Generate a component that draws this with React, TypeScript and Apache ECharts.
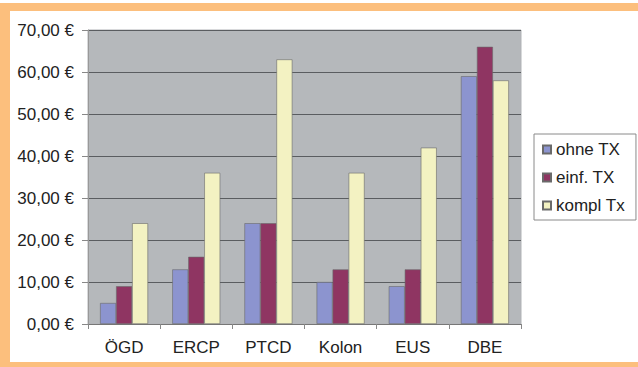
import React, { useEffect, useRef } from "react";
import * as echarts from "echarts";

const categories = ["ÖGD", "ERCP", "PTCD", "Kolon", "EUS", "DBE"];
const ohneTX = [5, 13, 24, 10, 9, 59];
const einfTX = [9, 16, 24, 13, 13, 66];
const komplTx = [24, 36, 63, 36, 42, 58];
const seriesNames = ["ohne TX", "einf. TX", "kompl Tx"];
const seriesColors = ["#8c94cf", "#8f3562", "#f3f2c2"];

const FONT = "'Liberation Sans', Arial, Helvetica, sans-serif";

export default function App() {
  const ref = useRef<HTMLDivElement>(null);
  useEffect(() => {
    if (!ref.current) return;
    const chart = echarts.init(ref.current, undefined, { renderer: "svg" });
    const data = [ohneTX, einfTX, komplTx];
    chart.setOption({
      animation: false,
      backgroundColor: "#ffffff",
      textStyle: { fontFamily: FONT },
      graphic: [
        { type: "rect", shape: { x: 0, y: 3, width: 638, height: 8 }, style: { fill: "#fcbf7d" }, silent: true },
        { type: "rect", shape: { x: 0, y: 3, width: 10, height: 364 }, style: { fill: "#fcbf7d" }, silent: true },
        { type: "rect", shape: { x: 0, y: 362, width: 638, height: 5 }, style: { fill: "#fcbf7d" }, silent: true },
      ],
      grid: {
        left: 88,
        top: 30,
        right: 117,
        bottom: 43,
        show: true,
        backgroundColor: "#b5b8bb",
        borderColor: "#b0b3b6",
        borderWidth: 1,
      },
      legend: {
        orient: "vertical",
        left: 534,
        top: 134,
        width: 96,
        padding: [7, 11, 6, 8],
        itemGap: 11,
        itemWidth: 8,
        itemHeight: 8,
        borderColor: "#8a8a8a",
        borderWidth: 1,
        backgroundColor: "#ffffff",
        icon: "rect",
        data: seriesNames,
        textStyle: { fontSize: 17, color: "#222", fontFamily: FONT },
      },
      xAxis: {
        type: "category",
        data: categories,
        axisLine: { lineStyle: { color: "#777", width: 1 } },
        axisTick: { show: true, inside: false, length: 5, lineStyle: { color: "#888" } },
        axisLabel: { fontSize: 17, color: "#222", margin: 15, fontFamily: FONT },
      },
      yAxis: {
        type: "value",
        min: 0,
        max: 70,
        interval: 10,
        axisLine: { show: true, lineStyle: { color: "#999" } },
        axisTick: { show: true, length: 6, lineStyle: { color: "#888" } },
        axisLabel: {
          fontSize: 17,
          color: "#222",
          margin: 14,
          fontFamily: FONT,
          formatter: (v: number) => `${v},00 €`,
        },
        splitLine: { lineStyle: { color: "#5a5d60", width: 1 } },
      },
      series: seriesNames.map((name, i) => ({
        name,
        type: "bar",
        data: data[i],
        barWidth: 16,
        barGap: "0%",
        itemStyle: { color: seriesColors[i], borderColor: "#6a6a6a", borderWidth: 0.6 },
      })),
    });
    return () => chart.dispose();
  }, []);
  return (
    <div
      ref={ref}
      style={{ position: "fixed", left: 0, top: 0, width: 638, height: 367 }}
    />
  );
}
